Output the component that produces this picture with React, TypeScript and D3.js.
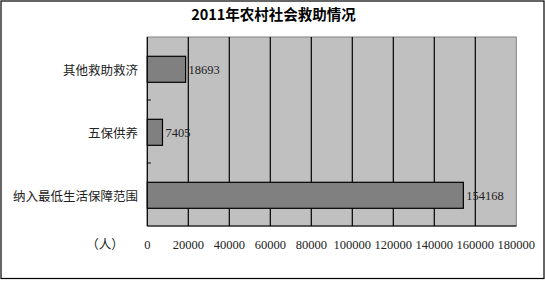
import React from "react";
import * as d3 from "d3";

const categories = ["其他救助救济", "五保供养", "纳入最低生活保障范围"];
const values = [18693, 7405, 154168];
const tickValues = [0, 20000, 40000, 60000, 80000, 100000, 120000, 140000, 160000, 180000];
const title = "2011年农村社会救助情况";
const unitLabel = "（人）";

const W = 545;
const H = 281;
const plot = { left: 147.3, right: 516.3, top: 37, bottom: 226 };

export default function App() {
  const x = d3.scaleLinear().domain([0, 180000]).range([plot.left, plot.right]);
  const y = d3.scaleBand<string>().domain(categories).range([plot.top, plot.bottom]).padding(0);
  const bw = y.bandwidth();
  const barH = 26;
  const cjk = '"Noto Sans CJK SC", "Noto Sans", sans-serif';
  const serif = '"Liberation Serif", "DejaVu Serif", serif';
  return (
    <svg width={W} height={H} style={{ position: "absolute", left: 0, top: 0, display: "block" }}>
      <rect x={0} y={0} width={W} height={H} fill="#fff" />
      <rect x={1} y={1} width={543} height={277.5} fill="none" stroke="#000" strokeWidth={1.2} />
      <text x={273.5} y={20} textAnchor="middle" fontFamily={cjk} fontWeight="bold" fontSize={14.5} fill="#000">
        {title}
      </text>
      <rect x={plot.left} y={plot.top} width={plot.right - plot.left} height={plot.bottom - plot.top} fill="#c0c0c0" stroke="#808080" strokeWidth={1} />
      {tickValues.slice(1, -1).map((t) => (
        <line key={t} x1={x(t)} x2={x(t)} y1={plot.top} y2={plot.bottom} stroke="#000" strokeWidth={1.2} />
      ))}
      <line x1={plot.left} x2={plot.right} y1={plot.bottom} y2={plot.bottom} stroke="#000" strokeWidth={1.2} />
      <line x1={plot.left} x2={plot.left} y1={plot.top} y2={plot.bottom} stroke="#000" strokeWidth={1.2} />
      {categories.slice(1).map((c) => (
        <line key={c} x1={plot.left} x2={plot.left + 3.5} y1={y(c)!} y2={y(c)!} stroke="#000" strokeWidth={1} />
      ))}
      {categories.map((c, i) => {
        const cy = (y(c) as number) + bw / 2 + 0.8;
        return (
          <g key={c}>
            <rect x={x(0)} y={cy - barH / 2} width={x(values[i]) - x(0)} height={barH} fill="#808080" stroke="#000" strokeWidth={1.2} />
            <text x={x(values[i]) + 3} y={cy + 4.5} fontFamily={serif} fontSize={12.5} fill="#222">
              {values[i]}
            </text>
            <text x={138} y={cy + 5.5} textAnchor="end" fontFamily={cjk} fontSize={12.5} fill="#222">
              {c}
            </text>
          </g>
        );
      })}
      {tickValues.map((t) => (
        <text key={t} x={x(t)} y={248.5} textAnchor="middle" fontFamily={serif} fontSize={12.5} fill="#222">
          {t}
        </text>
      ))}
      <text x={105} y={248.5} textAnchor="middle" fontFamily={cjk} fontSize={12.5} fill="#222">
        {unitLabel}
      </text>
    </svg>
  );
}
